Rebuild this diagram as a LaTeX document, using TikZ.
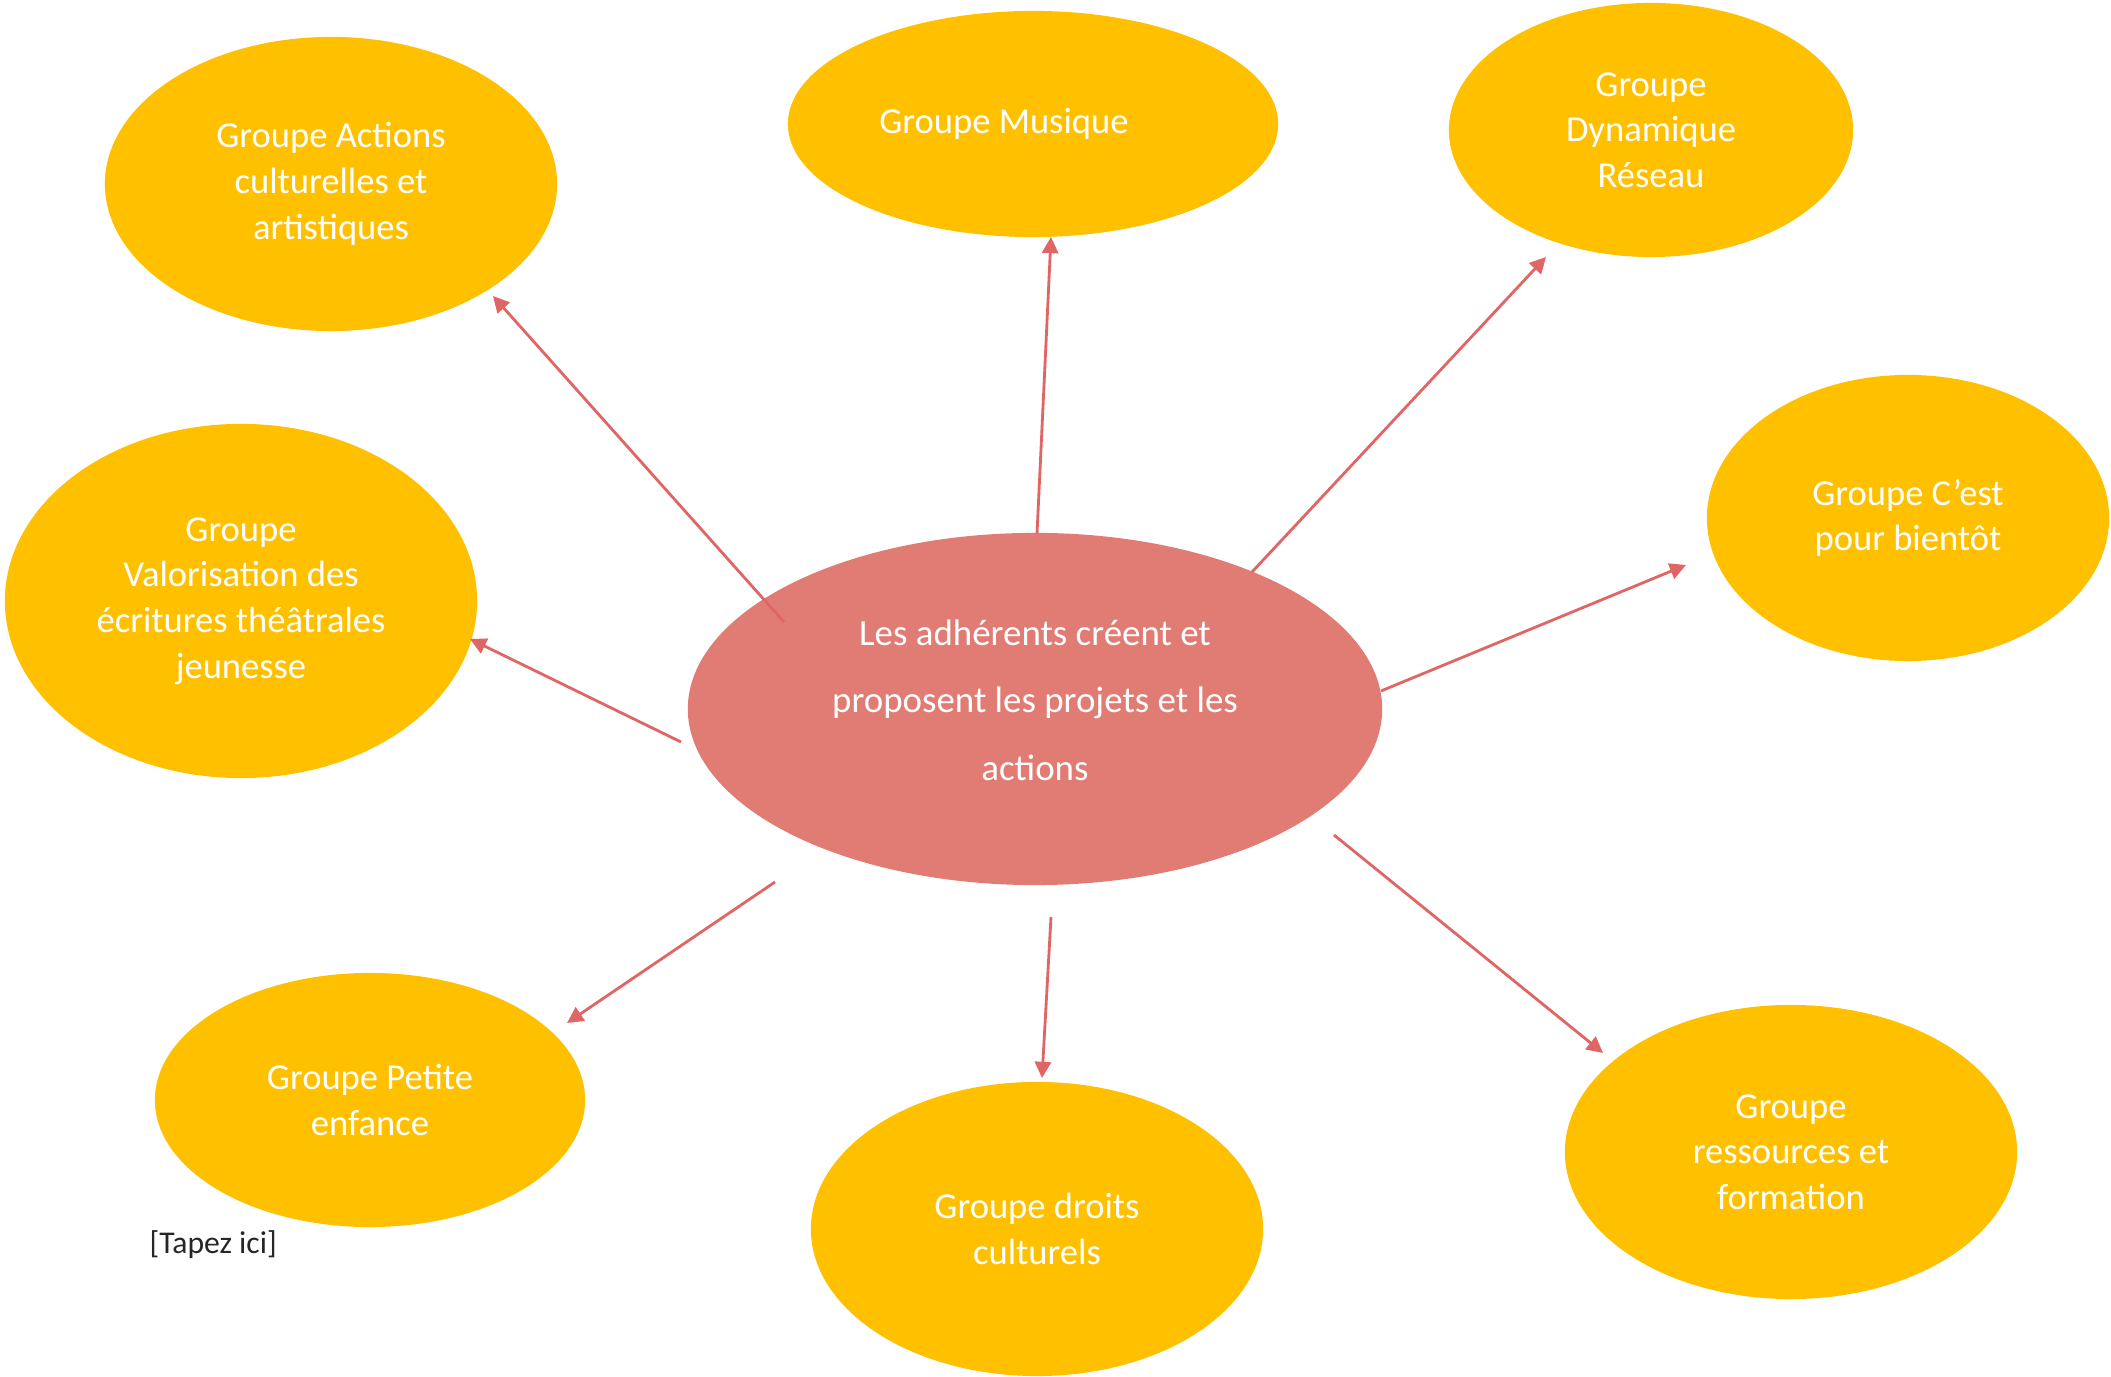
\documentclass[tikz,border=0pt]{standalone}
\usepackage{fontspec}
\setmainfont{Carlito}
\usetikzlibrary{arrows.meta,shapes.geometric}
\definecolor{GroupGold}{HTML}{FFC000}
\definecolor{HubSalmon}{HTML}{E07C73}
\definecolor{LinkRed}{HTML}{E06666}

\tikzset{
  group/.style={ellipse, fill=GroupGold, inner sep=0pt, align=center, text=white, font=\fontsize{10.4}{13}\selectfont},
  link/.style={draw=LinkRed, line width=0.8pt, -{Triangle[length=4.6pt,width=4.6pt]}}
}

\begin{document}
\begin{tikzpicture}[x=0.01cm, y=-0.01cm]
  \useasboundingbox (0,0) rectangle (2111,1377);

  % centre
  \node[ellipse, fill=HubSalmon, inner sep=0pt, minimum width=6.94cm, minimum height=3.52cm, align=center, text=white, font=\fontsize{10.5}{19.3}\selectfont] (hub) at (1035,709) {
    Les adhérents créent et\\
    proposent les projets et les\\
    actions\\[-0.5cm]
  };

  % groupes
  \node[group, minimum width=4.52cm, minimum height=2.94cm] (actions) at (331,184) {Groupe Actions\\ culturelles et\\ artistiques};
  \node[group, minimum width=4.90cm, minimum height=2.26cm] (musique) at (1033,124) {Groupe Musique\hspace*{0.58cm}};
  \node[group, minimum width=4.04cm, minimum height=2.54cm] (reseau) at (1651,130) {Groupe\\ Dynamique\\ Réseau};
  \node[group, minimum width=4.02cm, minimum height=2.86cm] (bientot) at (1908,518) {Groupe C’est\\ pour bientôt};
  \node[group, minimum width=4.72cm, minimum height=3.54cm] (ecritures) at (241,601) {Groupe\\ Valorisation des\\ écritures théâtrales\\ jeunesse};
  \node[group, minimum width=4.30cm, minimum height=2.54cm] (enfance) at (370,1100) {Groupe Petite\\ enfance};
  \node[group, minimum width=4.52cm, minimum height=2.94cm] (droits) at (1037,1229) {Groupe droits\\ culturels};
  \node[group, minimum width=4.52cm, minimum height=2.94cm] (ressources) at (1791,1152) {Groupe\\ ressources et\\ formation};

  \node[anchor=west, inner sep=0pt, text=black!85, font=\fontsize{9}{11}\selectfont] (tapez) at (149,1245) {[Tapez ici]};

  % extremites des fleches
  \coordinate (s1) at (784,622);  \coordinate (e1) at (493,296);
  \coordinate (s2) at (1037,534); \coordinate (e2) at (1051,237);
  \coordinate (s3) at (1252,572); \coordinate (e3) at (1546,257);
  \coordinate (s4) at (1381,691); \coordinate (e4) at (1686,565);
  \coordinate (s5) at (681,742);  \coordinate (e5) at (470,639);
  \coordinate (s6) at (775,882);  \coordinate (e6) at (567,1023);
  \coordinate (s7) at (1051,917); \coordinate (e7) at (1042,1078);
  \coordinate (s8) at (1334,835); \coordinate (e8) at (1603,1053);

  \foreach \i in {1,...,8}
    \draw[link] (s\i) -- (e\i);
\end{tikzpicture}
\end{document}
